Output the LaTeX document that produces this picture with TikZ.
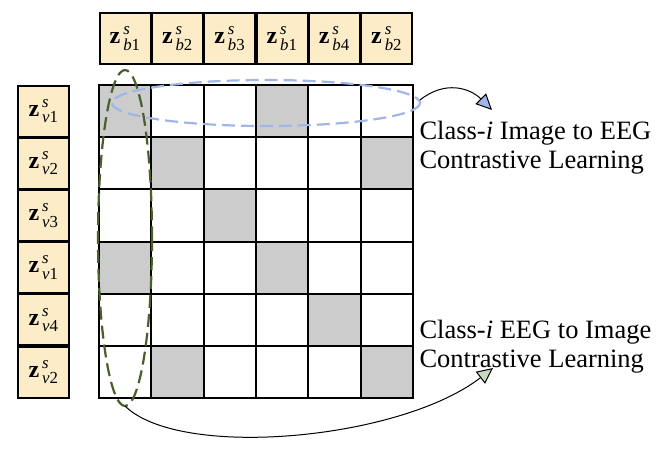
\documentclass[tikz,border=0pt]{standalone}
\usepackage{amsmath}
\usepackage{fontspec}
\setmainfont{Liberation Serif}
\usetikzlibrary{arrows.meta}
\begin{document}
\begin{tikzpicture}[x=1pt,y=-1pt,
  zbox/.style={draw,line width=2pt,fill={rgb,255:red,252;green,237;blue,200},minimum width=51pt,minimum height=51pt,inner sep=0pt,font=\fontsize{24}{24}\selectfont},
  cell/.style={draw,line width=2pt,minimum width=52.3pt,minimum height=52.2pt,inner sep=0pt},
  lab/.style={font=\fontsize{26.5}{29}\selectfont,align=left,anchor=west}]
\useasboundingbox (0,0) rectangle (666,455);
\newcommand\zlab[2]{\textbf{z}$^{\,\textit{s}}_{\,\textit{#1}\textrm{#2}}$}
\foreach \a/\b [count=\i] in {b/1,b/2,b/3,b/1,b/4,b/2}
  \node[zbox] (t\i) at ({99+52.3*(\i-0.5)},38.5) {\zlab{\a}{\b}};
\foreach \a/\b [count=\i] in {v/1,v/2,v/3,v/1,v/4,v/2}
  \node[zbox] (l\i) at (43.5,{85+52.2*(\i-0.5)}) {\zlab{\a}{\b}};
\foreach \r in {1,...,6}
  \foreach \c in {1,...,6}{
    \def\f{white}
    \ifnum\r=1 \ifnum\c=1 \def\f{black!20}\fi\ifnum\c=4 \def\f{black!20}\fi\fi
    \ifnum\r=2 \ifnum\c=2 \def\f{black!20}\fi\ifnum\c=6 \def\f{black!20}\fi\fi
    \ifnum\r=3 \ifnum\c=3 \def\f{black!20}\fi\fi
    \ifnum\r=4 \ifnum\c=1 \def\f{black!20}\fi\ifnum\c=4 \def\f{black!20}\fi\fi
    \ifnum\r=5 \ifnum\c=5 \def\f{black!20}\fi\fi
    \ifnum\r=6 \ifnum\c=2 \def\f{black!20}\fi\ifnum\c=6 \def\f{black!20}\fi\fi
    \node[cell,fill=\f] (c\r\c) at ({99+52.3*(\c-0.5)},{85+52.2*(\r-0.5)}) {};
  }
\draw[line width=2.2pt,dash pattern=on 13pt off 6pt,color={rgb,255:red,160;green,182;blue,232}] (266,103) ellipse [x radius=154,y radius=23];
\draw[line width=2.2pt,dash pattern=on 13pt off 6pt,color={rgb,255:red,75;green,95;blue,45}] (125,238) ellipse [x radius=27,y radius=168];
\coordinate (bs) at (420,100);
\coordinate (gs) at (125,406);
\draw[line width=1pt,-{Triangle[length=16pt,width=15pt,fill={rgb,255:red,160;green,182;blue,232}]}] (bs) .. controls (445,80) and (470,88) .. (492,110);
\draw[line width=1pt,-{Triangle[length=16pt,width=15pt,fill={rgb,255:red,200;green,218;blue,190}]}] (gs) .. controls (180,460) and (400,440) .. (493,368);
\node[lab] (t1l) at (416,148) {Class-\textit{i} Image to EEG\\Contrastive Learning};
\node[lab] (t2l) at (416,347) {Class-\textit{i} EEG to Image\\Contrastive Learning};
\end{tikzpicture}
\end{document}
